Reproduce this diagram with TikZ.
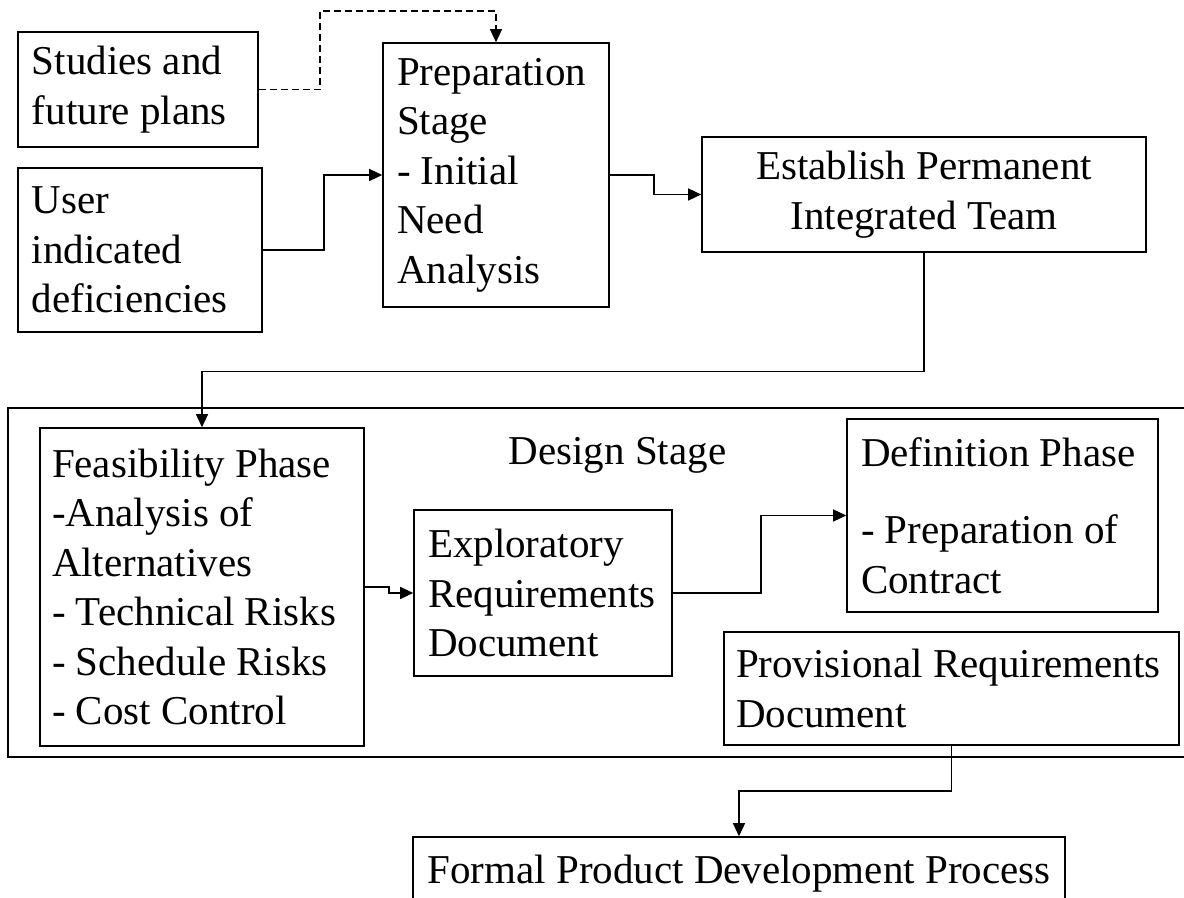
\documentclass[tikz,border=0pt]{standalone}
\usepackage{fontspec}
\setmainfont{Liberation Serif}
\usetikzlibrary{arrows.meta}
\newcommand{\boxfont}{\fontsize{20.5pt}{24.75pt}\selectfont}

\begin{document}
\begin{tikzpicture}[
    x=0.5pt, y=-0.5pt,
    font=\boxfont,
    box/.style={draw, line width=0.8pt, align=flush left, inner xsep=7pt, inner ysep=0pt},
    flow/.style={-{Triangle[length=6.5pt, width=6pt]}, line width=0.7pt},
    frame/.style={line width=0.9pt}
]
\useasboundingbox (0,0) rectangle (1184,898);
\clip (0,0) rectangle (1184,898);
\draw[frame] (8,408) rectangle (1200,757);
\node[box, text width=106pt, minimum height=57.5pt] (studies) at (138,89.5)
    {Studies and\\future plans};
\node[box, text width=108pt, minimum height=82pt] (user) at (140,250)
    {User\\indicated\\deficiencies};
\node[box, text width=99pt, minimum height=132pt] (prep) at (496,175)
    {Preparation\\Stage\\- Initial\\Need\\Analysis};
\node[box, align=center, minimum width=222pt, minimum height=57.5pt] (team) at (924,194.5)
    {Establish Permanent\\Integrated Team};
\node[box, inner xsep=6pt, text width=150pt, minimum height=159pt] (feas) at (202,587)
    {Feasibility Phase\\-Analysis of\\Alternatives\\- Technical Risks\\- Schedule Risks\\- Cost Control};
\node (stagelbl) at (617.5,455.5) {Design Stage};
\node[box, text width=115pt, minimum height=83pt] (expl) at (543,593)
    {Exploratory\\Requirements\\Document};
\node[box, text width=141.5pt, minimum height=96.5pt] (def) at (1002.5,515.5)
    {Definition Phase\\[14pt]- Preparation of\\Contract};
\node[box, inner xsep=6pt, text width=215.5pt, minimum height=56.5pt] (prov) at (951.5,688.5)
    {Provisional Requirements\\Document};
\node[box, align=center, minimum width=326pt, minimum height=36.5pt] (formal) at (739,873.5)
    {Formal Product Development Process};
\coordinate (dashtop) at (320,11);
\draw[flow, dash pattern=on 3.5pt off 2pt] (studies.east) -| (dashtop) -| (prep.north);
\draw[flow] (user.east) -- ++(61,0) |- (prep.west);
\draw[flow] (prep.east) -- ++(44,0) |- (team.west);
\draw[flow] (team.south) -- ++(0,119) -| (feas.north);
\draw[flow] (feas.east) -- ++(24,0) |- (expl.west);
\draw[flow] (expl.east) -- ++(88,0) |- (def.west);
\draw[flow] (prov.south) -- ++(0,45) -| (formal.north);
\end{tikzpicture}
\end{document}
